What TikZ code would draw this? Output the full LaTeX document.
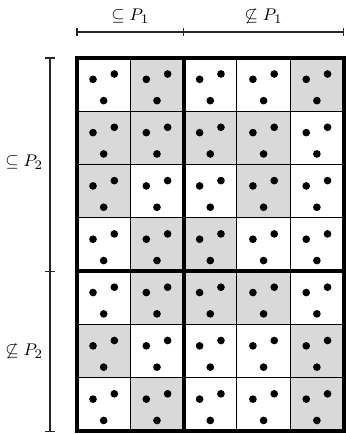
\documentclass[tikz,border=0pt]{standalone}
\begin{document}
\begin{tikzpicture}[x=1cm,y=-1cm,
  cellfill/.style={fill=black!15},
  thingrid/.style={line width=0.5pt},
  thickgrid/.style={line width=2.1pt},
  bracket/.style={line width=0.6pt, black!85},
  lbl/.style={inner sep=0pt, font=\fontsize{9.5}{11}\selectfont},
  dotmark/.style={fill=black}]
\useasboundingbox (-1.445,-1.088) rectangle (5.028,7.054);
% shaded cells
\foreach \c/\r in {1/0,4/0,0/1,1/1,2/1,3/1,0/2,3/2,1/3,2/3,1/4,2/4,3/4,0/5,4/5,1/6,4/6}
  \fill[cellfill] (\c,\r) rectangle ++(1,1);
% thin grid
\draw[thingrid] (0,0) grid (5,7);
% thick lines
\draw[thickgrid] (0,0) rectangle (5,7);
\draw[thickgrid] (2,0) -- (2,7);
\draw[thickgrid] (0,4) -- (5,4);
% dots
\foreach \c in {0,...,4}
  \foreach \r in {0,...,6} {
    \fill[dotmark] (\c+0.3,\r+0.4) circle (0.072);
    \fill[dotmark] (\c+0.7,\r+0.3) circle (0.072);
    \fill[dotmark] (\c+0.5,\r+0.8) circle (0.072);
  }
% top bracket
\coordinate (t0) at (0,-0.488);
\coordinate (t1) at (2,-0.488);
\coordinate (t2) at (5,-0.488);
\draw[bracket] (t0) -- (t2);
\foreach \p in {t0,t1,t2}
  \draw[bracket] ([yshift=0.08cm]\p) -- ([yshift=-0.08cm]\p);
\node[lbl] (p1in) at (1,-0.78) {$\subseteq P_1$};
\node[lbl] (p1out) at (3.5,-0.78) {$\not\subseteq P_1$};
% left bracket
\coordinate (l0) at (-0.507,0);
\coordinate (l1) at (-0.507,4);
\coordinate (l2) at (-0.507,7);
\draw[bracket] (l0) -- (l2);
\foreach \p in {l0,l1,l2}
  \draw[bracket] ([xshift=-0.09cm]\p) -- ([xshift=0.09cm]\p);
\node[lbl, anchor=east] (p2in) at (-0.63,1.95) {$\subseteq P_2$};
\node[lbl, anchor=east] (p2out) at (-0.63,5.5) {$\not\subseteq P_2$};
\end{tikzpicture}
\end{document}
